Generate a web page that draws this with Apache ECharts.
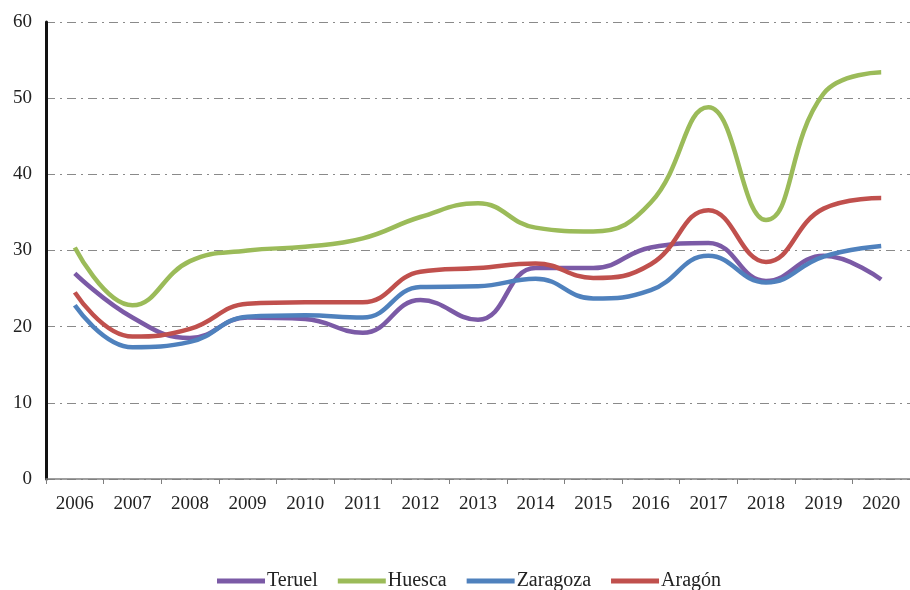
<!DOCTYPE html>
<html>
<head>
<meta charset="utf-8">
<script src="https://cdn.jsdelivr.net/npm/echarts@6/dist/echarts.min.js"></script>
<style>
html,body{margin:0;padding:0;background:#fff;}
#chart{width:910px;height:590px;}
</style>
</head>
<body>
<div id="chart"></div>
<script>
const years = ['2006','2007','2008','2009','2010','2011','2012','2013','2014','2015','2016','2017','2018','2019','2020'];
const teruel   = [27.0, 21.2, 18.5, 21.2, 21.0, 19.2, 23.5, 20.9, 27.7, 27.7, 30.4, 31.0, 26.0, 29.3, 26.2];
const huesca   = [30.4, 22.8, 28.6, 30.0, 30.5, 31.6, 34.4, 36.2, 33.0, 32.5, 36.3, 48.8, 34.0, 50.6, 53.4];
const zaragoza = [22.8, 17.3, 18.0, 21.3, 21.5, 21.2, 25.2, 25.3, 26.3, 23.7, 24.8, 29.3, 25.8, 29.2, 30.6];
const aragon   = [24.5, 18.7, 19.7, 23.0, 23.2, 23.2, 27.2, 27.7, 28.3, 26.4, 28.2, 35.3, 28.5, 35.5, 36.9];
const yTicks = [0, 10, 20, 30, 40, 50, 60];

const names = ['Teruel','Huesca','Zaragoza','Aragón'];
const colors = ['#7b5aa6','#9bbb59','#4f81bd','#c0504d'];
const dataSets = [teruel, huesca, zaragoza, aragon];
const font = '"Liberation Serif", "Times New Roman", serif';

const chart = echarts.init(document.getElementById('chart'));
chart.setOption({
  animation: false,
  backgroundColor: '#fff',
  grid: { left: 46, right: -6, top: 22, bottom: 111, containLabel: false },
  legend: {
    data: names.map(n => ({ name: n, icon: 'rect' })),
    left: 212, top: 566,
    itemWidth: 48, itemHeight: 5, itemGap: 20,
    textStyle: { fontFamily: font, fontSize: 20, color: '#222', padding: [0,0,0,-3] }
  },
  xAxis: {
    type: 'category',
    data: years,
    boundaryGap: true,
    axisLine: { lineStyle: { color: '#7f7f7f', width: 1.5 } },
    axisTick: { show: true, length: 5, lineStyle: { color: '#7f7f7f' } },
    axisLabel: { fontFamily: font, fontSize: 19, color: '#222', margin: 16 },
    splitLine: { show: false }
  },
  yAxis: {
    type: 'value',
    min: yTicks[0], max: yTicks[yTicks.length - 1], interval: 10,
    axisLine: { show: true, lineStyle: { color: '#111', width: 3 } },
    axisTick: { show: false },
    axisLabel: { fontFamily: font, fontSize: 19, color: '#222', margin: 14 },
    splitLine: { show: true, lineStyle: { color: '#8a8a8a', width: 1.2, type: [9, 5, 2, 5] } }
  },
  series: names.map((n, i) => ({
    name: n,
    type: 'line',
    data: dataSets[i],
    smooth: 0.45,
    showSymbol: false,
    symbol: 'none',
    itemStyle: { color: colors[i] },
    lineStyle: { color: colors[i], width: 4.5 },
    z: 3 + i
  }))
});
</script>
</body>
</html>
